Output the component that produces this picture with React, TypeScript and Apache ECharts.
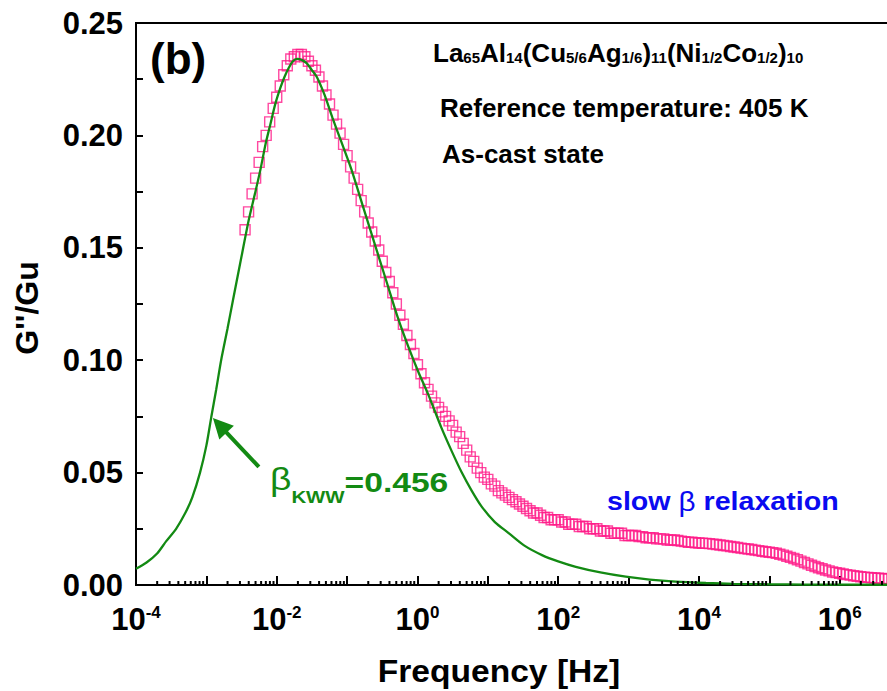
import React, { useEffect, useRef } from 'react';
import * as echarts from 'echarts';

const FONT = '"Liberation Sans", Arial, sans-serif';
const PINK = '#ff1a88';
const GREEN = '#138a13';
const BLUE = '#0a0af0';

// Measured loss modulus, pairs of [log10(f / Hz), G''/Gu]
const alphaRise = [
  [-2.45, 0.158], [-2.40, 0.166], [-2.35, 0.174], [-2.30, 0.181], [-2.25, 0.188], [-2.20, 0.195],
  [-2.15, 0.200], [-2.10, 0.206], [-2.05, 0.212], [-2.00, 0.217], [-1.95, 0.222], [-1.90, 0.227],
  [-1.85, 0.231], [-1.80, 0.234], [-1.75, 0.235], [-1.70, 0.236], [-1.65, 0.236], [-1.60, 0.235],
  [-1.55, 0.233], [-1.50, 0.231], [-1.45, 0.229], [-1.40, 0.226], [-1.35, 0.222], [-1.30, 0.218],
  [-1.25, 0.214], [-1.20, 0.209],
];

const alphaDecay = [
  [-1.15, 0.205], [-1.10, 0.201], [-1.05, 0.196], [-1.00, 0.191], [-0.95, 0.186], [-0.90, 0.181],
  [-0.85, 0.176], [-0.80, 0.171], [-0.75, 0.166], [-0.70, 0.161], [-0.65, 0.157], [-0.60, 0.153],
  [-0.55, 0.149], [-0.50, 0.144], [-0.45, 0.139], [-0.40, 0.135], [-0.35, 0.130], [-0.30, 0.125],
  [-0.25, 0.120], [-0.20, 0.116], [-0.15, 0.111], [-0.10, 0.107], [-0.05, 0.103], [0.00, 0.098],
  [0.05, 0.094], [0.10, 0.090], [0.15, 0.087], [0.20, 0.084], [0.25, 0.081], [0.30, 0.079],
  [0.35, 0.077], [0.40, 0.075],
];

const betaTail = [
  [0.45, 0.073], [0.50, 0.071], [0.55, 0.068], [0.60, 0.066], [0.65, 0.063], [0.70, 0.060],
  [0.75, 0.057], [0.80, 0.055], [0.85, 0.052], [0.90, 0.050], [0.95, 0.048], [1.00, 0.047],
  [1.05, 0.045], [1.10, 0.044], [1.15, 0.042], [1.20, 0.041], [1.25, 0.040], [1.30, 0.039],
  [1.35, 0.038], [1.40, 0.037], [1.45, 0.036], [1.50, 0.035], [1.55, 0.034], [1.60, 0.033],
  [1.65, 0.032], [1.70, 0.032], [1.75, 0.031], [1.80, 0.030], [1.85, 0.030], [1.90, 0.029],
  [1.95, 0.029], [2.00, 0.029], [2.05, 0.028], [2.10, 0.028], [2.15, 0.027], [2.20, 0.027],
  [2.25, 0.027], [2.30, 0.026], [2.35, 0.026], [2.40, 0.026], [2.45, 0.025], [2.50, 0.025],
  [2.55, 0.025], [2.60, 0.024], [2.65, 0.024], [2.70, 0.024], [2.75, 0.023], [2.80, 0.023],
  [2.85, 0.023], [2.90, 0.023], [2.95, 0.022], [3.00, 0.022], [3.05, 0.022], [3.10, 0.022],
  [3.15, 0.0215], [3.20, 0.0215], [3.25, 0.021], [3.30, 0.021], [3.35, 0.021], [3.40, 0.0205],
  [3.45, 0.0205], [3.50, 0.0205], [3.55, 0.020], [3.60, 0.020], [3.65, 0.020], [3.70, 0.0198],
  [3.75, 0.0195], [3.80, 0.0193], [3.85, 0.019], [3.90, 0.019], [3.95, 0.0188], [4.00, 0.0187],
  [4.05, 0.0186], [4.10, 0.0185], [4.15, 0.0184], [4.20, 0.0182], [4.25, 0.018], [4.30, 0.0178],
  [4.35, 0.0176], [4.40, 0.0174], [4.45, 0.0171], [4.50, 0.0169], [4.55, 0.0167], [4.60, 0.0164],
  [4.65, 0.0162], [4.70, 0.016], [4.75, 0.0158], [4.80, 0.0155], [4.85, 0.0153], [4.90, 0.015],
  [4.95, 0.0148], [5.00, 0.0146], [5.05, 0.0144], [5.10, 0.0141], [5.15, 0.0137], [5.20, 0.0133],
  [5.25, 0.0128], [5.30, 0.0123], [5.35, 0.0118], [5.40, 0.0112], [5.45, 0.0106], [5.50, 0.0100],
  [5.55, 0.0094], [5.60, 0.0088], [5.65, 0.0082], [5.70, 0.0077], [5.75, 0.0072], [5.80, 0.0067],
  [5.85, 0.0063], [5.90, 0.0058], [5.95, 0.0055], [6.00, 0.0052], [6.05, 0.0049], [6.10, 0.0046],
  [6.15, 0.0044], [6.20, 0.0041], [6.25, 0.0039], [6.30, 0.0037], [6.35, 0.0035], [6.40, 0.0034],
  [6.45, 0.0032], [6.50, 0.0031], [6.55, 0.0030], [6.60, 0.0029], [6.65, 0.0028], [6.70, 0.0028],
];

// KWW fit curve, [log10(f / Hz), G''/Gu]
const kwwFit = [
  [-4.0, 0.0072], [-3.85, 0.0100], [-3.70, 0.0140], [-3.57, 0.0195], [-3.43, 0.025],
  [-3.30, 0.032], [-3.20, 0.039], [-3.09, 0.050], [-3.00, 0.062], [-2.93, 0.0747],
  [-2.86, 0.087], [-2.79, 0.100], [-2.70, 0.114], [-2.62, 0.127], [-2.52, 0.143],
  [-2.40, 0.162], [-2.31, 0.174], [-2.23, 0.185], [-2.16, 0.196], [-2.09, 0.205],
  [-2.02, 0.214], [-1.95, 0.221], [-1.89, 0.226], [-1.83, 0.230], [-1.77, 0.233],
  [-1.71, 0.234], [-1.64, 0.2335], [-1.57, 0.232], [-1.50, 0.229], [-1.43, 0.226],
  [-1.32, 0.218], [-1.21, 0.208], [-1.08, 0.197], [-0.94, 0.185], [-0.80, 0.171],
  [-0.66, 0.157], [-0.54, 0.145], [-0.42, 0.133], [-0.28, 0.119], [-0.13, 0.106],
  [0.01, 0.095], [0.15, 0.085], [0.34, 0.070], [0.48, 0.060], [0.63, 0.050],
  [0.77, 0.042], [0.91, 0.035], [1.10, 0.028], [1.30, 0.023], [1.52, 0.0175],
  [1.77, 0.0133], [2.00, 0.0105], [2.25, 0.0081], [2.60, 0.0056], [2.96, 0.0037],
  [3.30, 0.0024], [3.67, 0.0015], [4.1, 0.0009], [4.5, 0.0005], [5.0, 0.0003],
  [5.5, 0.0002], [6.8, 0.0001],
];

// Arrow from the beta_KWW label to the fitted curve: [frequency, G''/Gu]
const arrowTail = [5.58e-3, 0.0525];
const arrowHead = [1.55e-3, 0.071];

const xRange = [1e-4, 1e7];
const yRange = [0, 0.25];
const yStep = 0.05;
const minorMantissas = [2, 3, 4, 5, 6, 7, 8, 9];

const toFreq = (pts: number[][]) => pts.map(([lg, g]) => [Math.pow(10, lg), g]);

export default function App() {
  const ref = useRef<HTMLDivElement>(null);

  useEffect(() => {
    if (!ref.current) return;
    const chart = echarts.init(ref.current, undefined, { renderer: 'svg' });

    const measured = [...toFreq(alphaRise), ...toFreq(alphaDecay), ...toFreq(betaTail)];
    const fit = toFreq(kwwFit);

    const minorTicks: number[][] = [];
    for (let e = -4; e < 7; e++) {
      for (const m of minorMantissas) minorTicks.push([m * Math.pow(10, e), 0]);
    }

    chart.setOption({
      animation: false,
      grid: {
        left: 136, right: -23, top: 23, bottom: 106,
        show: true, borderColor: '#000', borderWidth: 2,
        outerBoundsMode: 'none',
      },
      xAxis: {
        type: 'log', logBase: 10, min: xRange[0], max: xRange[1], interval: 1,
        axisLine: { show: true, lineStyle: { color: '#000', width: 2 } },
        axisTick: { show: true, inside: true, length: 9, lineStyle: { color: '#000', width: 2 } },
        minorTick: { show: false },
        splitLine: { show: false },
        axisLabel: {
          margin: 19,
          formatter: (v: number) => {
            const e = Math.round(Math.log10(v));
            if (e % 2 !== 0 || e > 6) return '';
            return `{b|10}{e|${e}}`;
          },
          rich: {
            b: { fontSize: 31, fontWeight: 'bold', fontFamily: FONT, color: '#000', lineHeight: 31, verticalAlign: 'top' },
            e: { fontSize: 17, fontWeight: 'bold', fontFamily: FONT, color: '#000', lineHeight: 14, verticalAlign: 'top' },
          },
        },
      },
      yAxis: {
        type: 'value', min: yRange[0], max: yRange[1], interval: yStep,
        axisLine: { show: true, lineStyle: { color: '#000', width: 2 } },
        axisTick: { show: true, inside: true, length: 7, lineStyle: { color: '#000', width: 2 } },
        minorTick: { show: true, splitNumber: 2, length: 7, lineStyle: { color: '#000', width: 2 } },
        splitLine: { show: false },
        axisLabel: {
          margin: 13, fontSize: 31, fontWeight: 'bold', fontFamily: FONT, color: '#000',
          formatter: (v: number) => v.toFixed(2),
        },
      },
      series: [
        {
          type: 'custom',
          silent: true,
          data: minorTicks,
          encode: { x: 0, y: 1 },
          z: 5,
          renderItem: (params: any, api: any) => {
            const p = api.coord([api.value(0), 0]);
            return {
              type: 'line',
              shape: { x1: p[0], y1: p[1], x2: p[0], y2: p[1] - 4 },
              style: { stroke: '#000', lineWidth: 2 },
            };
          },
        },
        {
          type: 'scatter',
          silent: true,
          data: measured,
          symbol: 'rect',
          symbolSize: 10,
          itemStyle: { color: 'rgba(0,0,0,0)', borderColor: PINK, borderWidth: 1.4 },
          z: 2,
        },
        {
          type: 'line',
          silent: true,
          data: fit,
          smooth: 0.25,
          showSymbol: false,
          symbol: 'none',
          lineStyle: { color: GREEN, width: 2.3 },
          z: 3,
          markLine: {
            silent: true,
            symbol: ['none', 'triangle'],
            symbolSize: 20,
            label: { show: false },
            lineStyle: { color: GREEN, width: 4, type: 'solid' },
            itemStyle: { color: GREEN },
            data: [[{ coord: arrowTail }, { coord: arrowHead }]],
          },
        },
      ],
      graphic: [
        {
          type: 'text', x: 150, y: 58.4,
          style: { text: '(b)', font: `bold 44px ${FONT}`, fill: '#000', verticalAlign: 'middle', align: 'left' },
        },
        {
          type: 'text', x: 433, y: 52.9,
          style: {
            text: '{m|La}{s|65}{m|Al}{s|14}{m|(Cu}{s|5/6}{m|Ag}{s|1/6}{m|)}{s|11}{m|(Ni}{s|1/2}{m|Co}{s|1/2}{m|)}{s|10}',
            verticalAlign: 'middle', align: 'left', fill: '#000',
            rich: {
              m: { fontSize: 26, fontWeight: 'bold', fontFamily: FONT, fill: '#000' },
              s: { fontSize: 15, fontWeight: 'bold', fontFamily: FONT, fill: '#000', padding: [8.3, 0, 0, 0] },
            },
          },
        },
        {
          type: 'text', x: 440, y: 108,
          style: { text: 'Reference temperature: 405 K', font: `bold 26px ${FONT}`, fill: '#000', verticalAlign: 'middle', align: 'left' },
        },
        {
          type: 'text', x: 442, y: 154,
          style: { text: 'As-cast state', font: `bold 26px ${FONT}`, fill: '#000', verticalAlign: 'middle', align: 'left' },
        },
        {
          type: 'text', x: 270, y: 482.2, scaleX: 1.2,
          style: {
            text: '{b|β}{s|KWW}{m|=0.456}',
            verticalAlign: 'middle', align: 'left', fill: GREEN,
            rich: {
              b: { fontSize: 31, fontFamily: FONT, fill: GREEN, padding: [0, 0, 5.4, 0] },
              s: { fontSize: 17, fontWeight: 'bold', fontFamily: FONT, fill: GREEN, padding: [29.6, 0, 0, 0] },
              m: { fontSize: 28, fontWeight: 'bold', fontFamily: FONT, fill: GREEN },
            },
          },
        },
        {
          type: 'text', x: 607, y: 501, scaleX: 1.1,
          style: {
            text: '{a|slow }{b|β}{a| relaxation}',
            verticalAlign: 'middle', align: 'left', fill: BLUE,
            rich: {
              a: { fontSize: 26, fontWeight: 'bold', fontFamily: FONT, fill: BLUE },
              b: { fontSize: 27, fontFamily: FONT, fill: BLUE },
            },
          },
        },
        {
          type: 'text', x: 499, y: 670.8, scaleX: 1.05,
          style: { text: 'Frequency [Hz]', font: `bold 32px ${FONT}`, fill: '#000', verticalAlign: 'middle', align: 'center' },
        },
        {
          type: 'text', x: 27, y: 308, rotation: Math.PI / 2,
          style: { text: "G''/Gu", font: `bold 32px ${FONT}`, fill: '#000', verticalAlign: 'middle', align: 'center' },
        },
      ],
    });

    return () => chart.dispose();
  }, []);

  return (
    <div
      ref={ref}
      style={{ position: 'fixed', left: 0, top: 0, width: 887, height: 691, background: '#fff' }}
    />
  );
}
